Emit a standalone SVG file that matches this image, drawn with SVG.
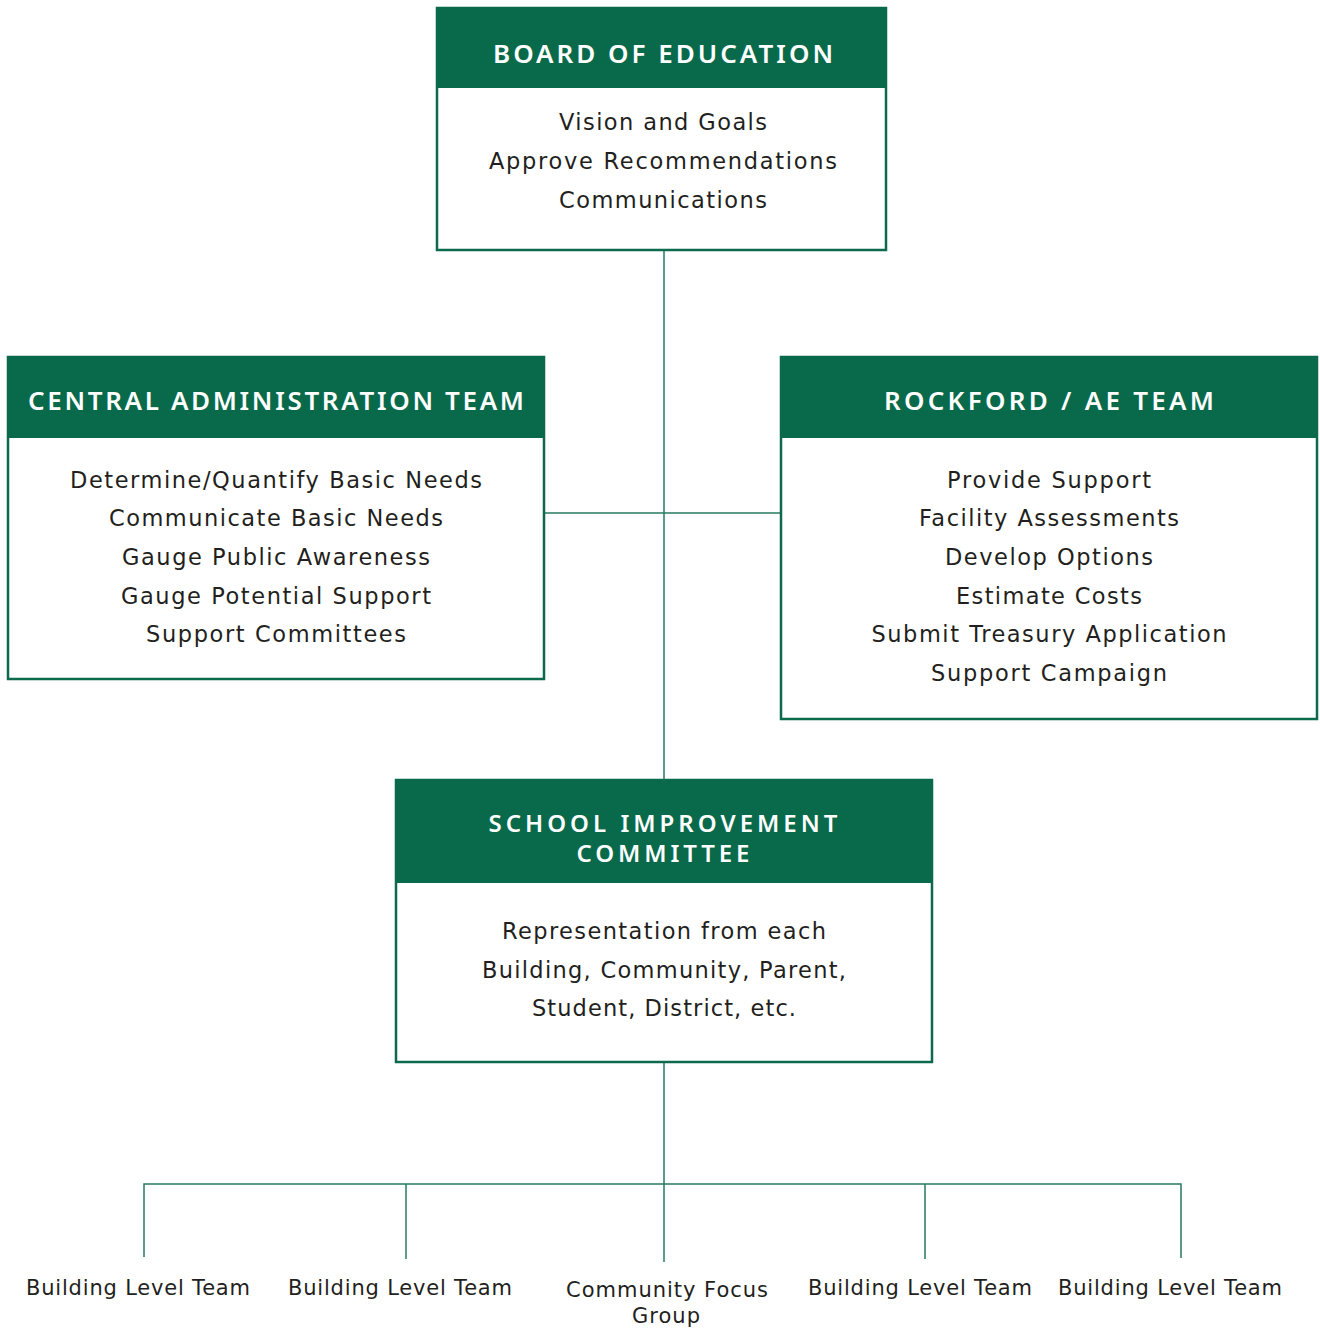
<svg xmlns="http://www.w3.org/2000/svg" width="1320" height="1329" viewBox="0 0 1320 1329">
<style>
.box{fill:#ffffff;stroke:#0a6a4b;stroke-width:2.5}
.hdr{fill:#086a4b}
.ht{font-family:"Noto Sans","DejaVu Sans",sans-serif;font-weight:600;font-size:26px;fill:#ffffff;text-anchor:middle}
.ht2{font-size:24px}
.bt{font-family:"DejaVu Sans","Liberation Sans",sans-serif;font-weight:400;font-size:22.5px;fill:#231f20;text-anchor:middle}
.lt{font-family:"DejaVu Sans","Liberation Sans",sans-serif;font-weight:400;font-size:21px;fill:#231f20;text-anchor:middle}
.con{fill:none;stroke:#257a60;stroke-width:1.5}
</style>
<rect width="1320" height="1329" fill="#ffffff"/>
<g id="connectors">
<line class="con" x1="664" y1="250" x2="664" y2="779"/>
<line class="con" x1="544" y1="513" x2="781" y2="513"/>
<line class="con" x1="664" y1="1062" x2="664" y2="1262"/>
<polyline class="con" points="144,1257 144,1184 1181,1184 1181,1258"/>
<line class="con" x1="406" y1="1184" x2="406" y2="1259"/>
<line class="con" x1="925" y1="1184" x2="925" y2="1259"/>
</g>
<g id="board">
<rect class="box" x="437" y="8" width="449" height="242"/>
<rect class="hdr" x="436" y="7" width="451" height="81"/>
<text class="ht" x="663" y="63" textLength="340" lengthAdjust="spacing">BOARD OF EDUCATION</text>
<text class="bt" x="663" y="130" textLength="208" lengthAdjust="spacing">Vision and Goals</text>
<text class="bt" x="663" y="169" textLength="348" lengthAdjust="spacing">Approve Recommendations</text>
<text class="bt" x="663" y="208" textLength="208" lengthAdjust="spacing">Communications</text>
</g>
<g id="central">
<rect class="box" x="8" y="357" width="536" height="322"/>
<rect class="hdr" x="7" y="356" width="538" height="82"/>
<text class="ht" x="276" y="410" textLength="496" lengthAdjust="spacing">CENTRAL ADMINISTRATION TEAM</text>
<text class="bt" x="276" y="488" textLength="412" lengthAdjust="spacing">Determine/Quantify Basic Needs</text>
<text class="bt" x="276" y="526" textLength="334" lengthAdjust="spacing">Communicate Basic Needs</text>
<text class="bt" x="276" y="565" textLength="308" lengthAdjust="spacing">Gauge Public Awareness</text>
<text class="bt" x="276" y="604" textLength="310" lengthAdjust="spacing">Gauge Potential Support</text>
<text class="bt" x="276" y="642" textLength="260" lengthAdjust="spacing">Support Committees</text>
</g>
<g id="rockford">
<rect class="box" x="781" y="357" width="536" height="362"/>
<rect class="hdr" x="780" y="356" width="538" height="82"/>
<text class="ht" x="1049" y="410" textLength="330" lengthAdjust="spacing">ROCKFORD / AE TEAM</text>
<text class="bt" x="1049" y="488" textLength="204" lengthAdjust="spacing">Provide Support</text>
<text class="bt" x="1049" y="526" textLength="260" lengthAdjust="spacing">Facility Assessments</text>
<text class="bt" x="1049" y="565" textLength="208" lengthAdjust="spacing">Develop Options</text>
<text class="bt" x="1049" y="604" textLength="186" lengthAdjust="spacing">Estimate Costs</text>
<text class="bt" x="1049" y="642" textLength="355" lengthAdjust="spacing">Submit Treasury Application</text>
<text class="bt" x="1049" y="681" textLength="236" lengthAdjust="spacing">Support Campaign</text>
</g>
<g id="sic">
<rect class="box" x="396" y="780" width="536" height="282"/>
<rect class="hdr" x="395" y="779" width="538" height="104"/>
<text class="ht ht2" x="663" y="832" textLength="349" lengthAdjust="spacing">SCHOOL IMPROVEMENT</text>
<text class="ht ht2" x="663" y="862" textLength="173" lengthAdjust="spacing">COMMITTEE</text>
<text class="bt" x="664" y="939" textLength="324" lengthAdjust="spacing">Representation from each</text>
<text class="bt" x="664" y="978" textLength="364" lengthAdjust="spacing">Building, Community, Parent,</text>
<text class="bt" x="664" y="1016" textLength="264" lengthAdjust="spacing">Student, District, etc.</text>
</g>
<g id="blt1"><text class="lt" x="138" y="1295" textLength="224" lengthAdjust="spacing">Building Level Team</text></g>
<g id="blt2"><text class="lt" x="400" y="1295" textLength="224" lengthAdjust="spacing">Building Level Team</text></g>
<g id="cfg">
<text class="lt" x="667" y="1297" textLength="202" lengthAdjust="spacing">Community Focus</text>
<text class="lt" x="666" y="1323" textLength="68" lengthAdjust="spacing">Group</text>
</g>
<g id="blt3"><text class="lt" x="920" y="1295" textLength="224" lengthAdjust="spacing">Building Level Team</text></g>
<g id="blt4"><text class="lt" x="1170" y="1295" textLength="224" lengthAdjust="spacing">Building Level Team</text></g>
</svg>
